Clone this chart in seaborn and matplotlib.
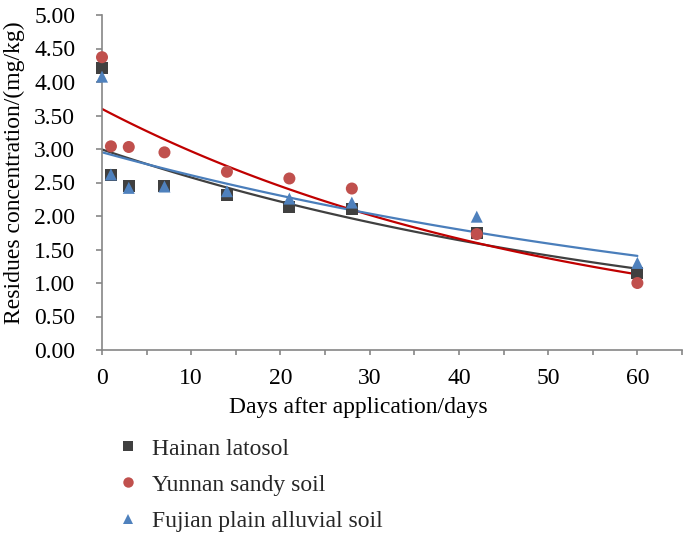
import numpy as np
import pandas as pd
import matplotlib
matplotlib.use("Agg")
import matplotlib.pyplot as plt
import seaborn as sns
from matplotlib.lines import Line2D

days = [0, 1, 3, 7, 14, 21, 28, 42, 60]
hainan = [4.21, 2.61, 2.45, 2.45, 2.31, 2.13, 2.10, 1.74, 1.15]
yunnan = [4.37, 3.04, 3.03, 2.95, 2.66, 2.56, 2.41, 1.73, 1.00]
fujian = [4.08, 2.62, 2.42, 2.44, 2.37, 2.26, 2.20, 1.99, 1.30]
series_names = ["Hainan latosol", "Yunnan sandy soil", "Fujian plain alluvial soil"]
y_ticks = [0.0, 0.5, 1.0, 1.5, 2.0, 2.5, 3.0, 3.5, 4.0, 4.5, 5.0]
x_ticks = [0, 10, 20, 30, 40, 50, 60]

sns.set_theme(style="white")
plt.rcParams['font.family'] = ['Liberation Serif', 'DejaVu Serif']

marker_colors = ["#404040", "#C0504D", "#4F81BD"]
line_colors = ["#404040", "#C00000", "#4A7EBB"]
markers = ["s", "o", "^"]
FS = 17

fig = plt.figure(figsize=(6.85, 5.35), dpi=100)
ax = fig.add_axes([102/685, 1 - 350/535, (682-102)/685, (350-15)/535])

rows = []
for name, vals in zip(series_names, [hainan, yunnan, fujian]):
    for d, v in zip(days, vals):
        rows.append({"day": d, "val": v, "soil": name})
df = pd.DataFrame(rows)

# exponential trendlines (fit ln y linear, as Excel does)
tl_rows = []
xs = np.linspace(0, 60, 121)
for name, vals in zip(series_names, [hainan, yunnan, fujian]):
    b, lna = np.polyfit(days, np.log(vals), 1)
    for x in xs:
        tl_rows.append({"day": x, "val": np.exp(lna) * np.exp(b * x), "soil": name})
tl = pd.DataFrame(tl_rows)

sns.lineplot(data=tl, x="day", y="val", hue="soil", hue_order=series_names,
             palette=line_colors, linewidth=1.6, legend=False, ax=ax, zorder=2)
sns.scatterplot(data=df, x="day", y="val", hue="soil", style="soil",
                hue_order=series_names, style_order=series_names,
                palette=marker_colors, markers=markers, s=75, linewidth=0,
                legend=False, ax=ax, zorder=3, clip_on=False)

ax.set_xlim(0, 65.0)
ax.set_ylim(0, 5)
ax.set_xticks(x_ticks)
ax.set_xticks([5, 15, 25, 35, 45, 55, 65], minor=True)
ax.set_yticks(y_ticks)
ax.set_yticklabels([f"{v:.2f}" for v in y_ticks])
ax.set_xlabel("")
ax.set_ylabel("")
for s in ["top", "right"]:
    ax.spines[s].set_visible(False)
for s in ["left", "bottom"]:
    ax.spines[s].set_color("#868686")
    ax.spines[s].set_linewidth(1.2)
ax.tick_params(axis="y", which="major", direction="out", length=4.3, color="#868686",
               width=1.2, labelsize=FS, pad=15, left=True)
ax.tick_params(axis="x", which="both", direction="out", length=3.8, color="#868686",
               width=1.2, labelsize=FS, pad=9, bottom=True)
for lab in ax.get_xticklabels() + ax.get_yticklabels():
    lab.set_color("black")

fig.text(14/685, 1 - 173/535, "Residues concentration/(mg/kg)", ha="center", va="center",
         rotation=90, fontsize=FS, color="black")
fig.text(358/685, 1 - 408/535, "Days after application/days", ha="center", va="center",
         fontsize=FS, color="black")

handles = [Line2D([0], [0], marker=m, color="none", markerfacecolor=c, markeredgewidth=0,
                  markersize=ms, linestyle="none")
           for m, c, ms in zip(markers, marker_colors, [7, 7.5, 7.5])]
fig.legend(handles, series_names, loc="upper left", bbox_to_anchor=(116/685, 1 - 438/535),
           frameon=False, fontsize=FS, handletextpad=0.52, labelspacing=0.62,
           handlelength=1.0, borderpad=0, borderaxespad=0)

fig.savefig("out.png", dpi=100)
